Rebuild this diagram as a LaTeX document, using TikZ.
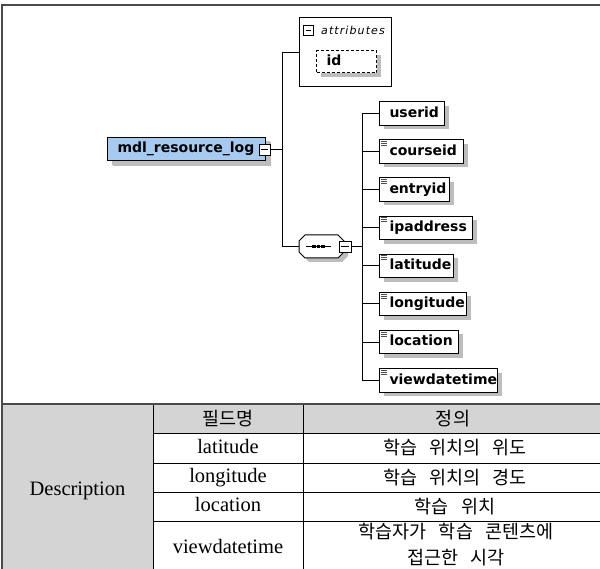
\documentclass[tikz,border=0pt]{standalone}
\usepackage{fontspec}
\setmainfont{Liberation Serif}
\newfontfamily\schemafont{DejaVu Sans}
\newfontfamily\hangulfont{Noto Sans CJK KR}[WordSpace=3]
\usetikzlibrary{shadows}

\definecolor{rootblue}{HTML}{A6CAF0}
\definecolor{cellgray}{HTML}{D4D4D4}
\definecolor{shadowgray}{HTML}{BDBDBD}
\definecolor{framegray}{HTML}{4A4A4A}
\definecolor{icongray}{HTML}{505050}

\newcommand\elemfont{\schemafont\bfseries\fontsize{14pt}{15pt}\selectfont\hyphenpenalty=10000\relax}
\newcommand\attrfont{\schemafont\itshape\fontsize{11pt}{12pt}\selectfont\addfontfeature{LetterSpace=10}}
\newcommand\cellfont{\fontsize{20.5pt}{24pt}\selectfont}
\newcommand\krcellfont{\hangulfont\fontsize{18.5pt}{26pt}\selectfont}

\begin{document}
\begin{tikzpicture}[x=1pt, y=-1pt,
  frameline/.style={draw=framegray, line width=1.5pt},
  gridline/.style={draw=black, line width=0.9pt},
  conn/.style={draw=black, line width=1pt},
  elem/.style={draw=black, fill=white, line width=1pt, anchor=west,
    minimum height=23.5pt, text width=#1, align=left,
    inner xsep=0pt, inner ysep=0pt, text height=10.5pt, text depth=3pt,
    font=\elemfont, execute at begin node={\hspace*{10pt}},
    general shadow={fill=shadowgray, shadow xshift=4pt, shadow yshift=-4pt}},
  rootbox/.style={elem=#1, fill=rootblue,
    general shadow={fill=shadowgray, shadow xshift=5pt, shadow yshift=-5pt}},
  attrbox/.style={draw=black, fill=white, line width=1pt, anchor=west,
    minimum width=92pt, minimum height=69pt, inner sep=0pt},
  pmbox/.style={draw=black, fill=white, line width=0.9pt, minimum size=11pt,
    inner sep=0pt,
    path picture={\draw[line width=0.9pt]
      ([xshift=2.2pt]path picture bounding box.west) --
      ([xshift=-2.2pt]path picture bounding box.east);}},
  seqbox/.style={minimum width=45pt, minimum height=23pt, inner sep=0pt},
  fieldicon/.style={draw=icongray, line width=0.8pt},
  encell/.style={font=\cellfont, inner sep=0pt, text height=14pt, text depth=4pt},
  krcell/.style={font=\krcellfont, inner sep=0pt, align=center}
]
\useasboundingbox (0,0) rectangle (600,569);

% ---------- description table ----------
\fill[cellgray] (2,404) rectangle (153,569);
\fill[cellgray] (153,404) rectangle (600,433);
\draw[gridline] (153,404) -- (153,569);
\draw[gridline] (303,404) -- (303,569);
\foreach \y in {433,463,492,521} \draw[gridline] (153,\y) -- (600,\y);

\node[encell] (desc) at (77.5,490) {Description};
\node[krcell] (hdrname) at (228,418.5) {필드명};
\node[krcell] (hdrdef) at (453,418.5) {정의};
\node[encell] (rlat) at (228,448) {latitude};
\node[krcell] (dlat) at (455,448) {학습 위치의 위도};
\node[encell] (rlon) at (228,477.5) {longitude};
\node[krcell] (dlon) at (455,477.5) {학습 위치의 경도};
\node[encell] (rloc) at (228,506.5) {location};
\node[krcell] (dloc) at (455,506.5) {학습 위치};
\node[encell] (rview) at (228,548) {viewdatetime};
\node[krcell] (dview) at (456,545) {학습자가 학습 콘텐츠에\\접근한 시각};

% ---------- outer frame ----------
\draw[frameline] (2,569) -- (2,5) -- (600,5);
\draw[frameline] (2,404) -- (600,404);

% ---------- schema tree ----------
% root element
\node[rootbox=158pt] (root) at (107,149) {mdl\_resource\_log};
\node[pmbox] (rootpm) at (264.5,149.5) {};

% attributes group
\node[attrbox] (attr) at (299,52.5) {};
\node[pmbox, minimum size=10pt] (attrpm) at (308.5,30) {};
\node[anchor=west, inner sep=0pt, font=\attrfont] (attrlabel) at (321,30) {attributes};
\node[elem=60pt, minimum height=22pt, dash pattern=on 3pt off 2pt] (id) at (316,62) {id};

% sequence compositor
\node[seqbox] (seq) at (321.5,246.5) {};
\begin{scope}[shift={(seq.center)}]
  \fill[shadowgray, shift={(4,4)}]
    (-22.5,-5.5) -- (-16.5,-11.5) -- (16.5,-11.5) -- (22.5,-5.5) --
    (22.5,5.5) -- (16.5,11.5) -- (-16.5,11.5) -- (-22.5,5.5) -- cycle;
  \draw[line width=1pt, fill=white]
    (-22.5,-5.5) -- (-16.5,-11.5) -- (16.5,-11.5) -- (22.5,-5.5) --
    (22.5,5.5) -- (16.5,11.5) -- (-16.5,11.5) -- (-22.5,5.5) -- cycle;
  \draw[line width=1pt] (-15.5,0) -- (9.5,0);
  \foreach \dx in {-7.5,-3,1.5}
    \fill ([xshift=-1.6pt,yshift=-1.6pt]\dx,0) rectangle ([xshift=1.6pt,yshift=1.6pt]\dx,0);
\end{scope}
\node[pmbox, minimum width=12pt] (seqpm) at (345,246.5) {};

% child elements
\node[elem=65pt] (userid) at (379,113.5) {userid};
\node[elem=84pt] (courseid) at (379,151.6) {courseid};
\node[elem=70pt] (entryid) at (379,189.7) {entryid};
\node[elem=93pt] (ipaddress) at (379,227.8) {ipaddress};
\node[elem=74pt] (latitude) at (379,265.9) {latitude};
\node[elem=87pt] (longitude) at (379,304) {longitude};
\node[elem=79pt] (location) at (379,342.1) {location};
\node[elem=118pt] (viewdatetime) at (379,380.5) {viewdatetime};

% simple-content marks
\foreach \e in {courseid,entryid,ipaddress,latitude,longitude,location,viewdatetime}
  \foreach \dy in {2.2,4.2,6.2}
    \draw[fieldicon] ([shift={(2,\dy)}]\e.north west) -- ++(6,0);

% connectors
\coordinate (trunk) at (282,149.5);
\coordinate (seqtrunk) at (362,246.5);
\draw[conn] (rootpm.east) -- (trunk);
\draw[conn] (attr.west) -- (attr.west -| trunk) -- (seq.west -| trunk) -- (seq.west);
\draw[conn] (seqpm.east) -- (seqtrunk);
\draw[conn] (userid.west -| seqtrunk) -- (viewdatetime.west -| seqtrunk);
\foreach \e in {userid,courseid,entryid,ipaddress,latitude,longitude,location,viewdatetime}
  \draw[conn] (\e.west -| seqtrunk) -- (\e.west);
\end{tikzpicture}
\end{document}
